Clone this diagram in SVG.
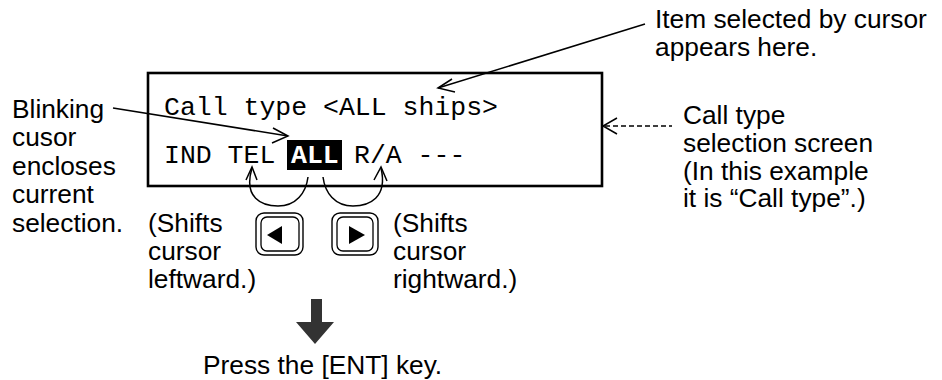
<svg xmlns="http://www.w3.org/2000/svg" width="942" height="380" viewBox="0 0 942 380">
<style>
.s{font-family:"Liberation Sans",Arial,sans-serif;font-size:26.3px;fill:#000}
.m{font-family:"Liberation Mono","Courier New",monospace;font-size:26.5px;fill:#000}
.mb{font-family:"Liberation Mono","Courier New",monospace;font-size:26.5px;font-weight:bold;fill:#fff}
.ln{fill:none;stroke:#000;stroke-width:1.5}
.ah{fill:none;stroke:#000;stroke-width:1.5}
</style>
<rect width="942" height="380" fill="#fff"/>
<g id="screen">
<rect x="148" y="73" width="454" height="113" fill="#fff" stroke="#000" stroke-width="2.6"/>
<text class="m" x="164" y="115">Call type &lt;ALL ships&gt;</text>
<text class="m" x="164" y="163">IND TEL</text>
<rect x="287" y="140" width="55" height="30" fill="#000"/>
<text class="mb" x="291" y="163">ALL</text>
<text class="m" x="354" y="163">R/A ---</text>
</g>
<g id="btn-left">
<rect x="256" y="213" width="47" height="42" rx="8" fill="#fff" stroke="#000" stroke-width="1.4"/>
<rect x="261" y="217" width="38" height="34" rx="6" fill="#fff" stroke="#000" stroke-width="1.3"/>
<polygon points="267,235 282,226 282,244" fill="#000"/>
</g>
<g id="btn-right">
<rect x="332" y="213" width="46" height="42" rx="8" fill="#fff" stroke="#000" stroke-width="1.4"/>
<rect x="337" y="217" width="36" height="34" rx="6" fill="#fff" stroke="#000" stroke-width="1.3"/>
<polygon points="365,235 349,226 349,244" fill="#000"/>
</g>
<g id="enter-arrow">
<polygon points="311,299 322,299 322,322 334,322 315,344 296,322 311,322" fill="#333"/>
</g>
<g id="connectors">
<line class="ln" x1="113" y1="108" x2="288" y2="136"/>
<polyline class="ah" points="273,128 288,136 272,143"/>
<line class="ln" x1="645" y1="24" x2="438" y2="88"/>
<polyline class="ah" points="452,79 438,88 455,92"/>
<line x1="605" y1="126" x2="672" y2="126" stroke="#000" stroke-width="1.4" stroke-dasharray="5,3"/>
<polyline class="ah" points="617,118 603,126 617,134" stroke-width="1.3"/>
<path class="ln" d="M252,168 C243,198 262,206 278,206 C296,206 306,193 308,177"/>
<polyline class="ah" points="246,180 252,167 257,180"/>
<path class="ln" d="M323,177 C325,193 335,206 353,206 C369,206 388,198 381,168"/>
<polyline class="ah" points="374,180 381,167 387,181"/>
</g>
<g id="labels">
<text class="s" x="12" y="118">Blinking</text>
<text class="s" x="12" y="146.3">cusor</text>
<text class="s" x="12" y="174.6">encloses</text>
<text class="s" x="12" y="203">current</text>
<text class="s" x="12" y="231.5">selection.</text>
<text class="s" x="148" y="232">(Shifts</text>
<text class="s" x="148" y="260">cursor</text>
<text class="s" x="148" y="288">leftward.)</text>
<text class="s" x="393" y="232">(Shifts</text>
<text class="s" x="393" y="260">cursor</text>
<text class="s" x="393" y="288">rightward.)</text>
<text class="s" x="655" y="28">Item selected by cursor</text>
<text class="s" x="655" y="56">appears here.</text>
<text class="s" x="683" y="124">Call type</text>
<text class="s" x="683" y="152">selection screen</text>
<text class="s" x="683" y="180">(In this example</text>
<text class="s" x="683" y="207">it is “Call type”.)</text>
<text class="s" x="203" y="374">Press the [ENT] key.</text>
</g>
</svg>
